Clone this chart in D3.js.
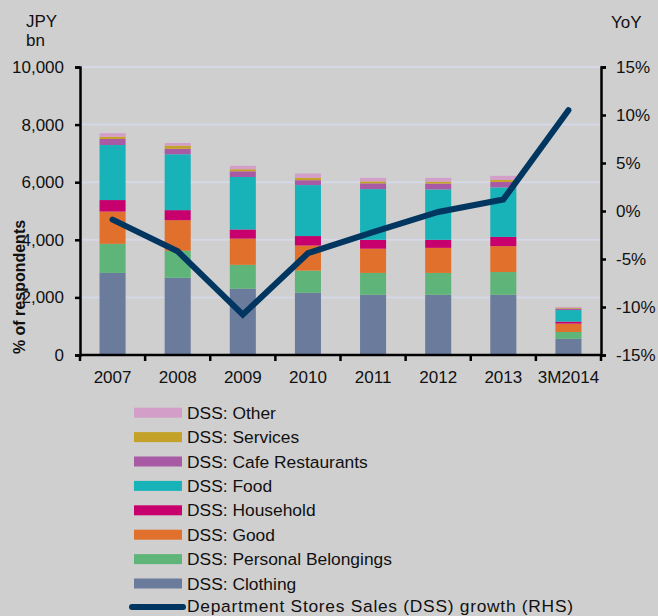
<!DOCTYPE html>
<html><head><meta charset="utf-8">
<script src="https://cdn.jsdelivr.net/npm/d3@7"></script>
<style>
html,body{margin:0;padding:0;background:#cfcfcf;}
svg{display:block;font-family:"Liberation Sans",Arial,sans-serif;}
</style></head>
<body>
<svg id="chart" width="658" height="616"></svg>
<script>
const categories = ["2007","2008","2009","2010","2011","2012","2013","3M2014"];
const clothing  = [2850,2680,2300,2160,2090,2090,2090,560];
const personal  = [1010, 940, 830, 770, 760, 760, 790,240];
const good      = [1120,1060, 910, 870, 840, 870, 900,290];
const household = [ 400, 350, 320, 330, 310, 280, 320, 70];
const food      = [1910,1940,1820,1770,1760,1750,1720,400];
const cafe      = [ 210, 190, 200, 170, 200, 200, 190, 50];
const services  = [  80, 110,  70,  80,  70,  70,  70, 30];
const other     = [ 120,  90, 120, 150, 120, 130, 140, 30];
const growth    = [-0.9,-4.2,-10.8,-4.4,-2.2,-0.1,1.2,10.5];
const leftTicks = [0,2000,4000,6000,8000,10000];
const rightTicks = [-15,-10,-5,0,5,10,15];

const seriesNames = ["DSS: Clothing","DSS: Personal Belongings","DSS: Good","DSS: Household","DSS: Food","DSS: Cafe Restaurants","DSS: Services","DSS: Other"];
const seriesData = [clothing,personal,good,household,food,cafe,services,other];
const colors = ["#6b7b9c","#5fb47a","#e0702b","#c8006e","#17b3b8","#a95aa5","#c4a22a","#d39ec8"];
const lineName = "Department Stores Sales (DSS) growth (RHS)";

const svg = d3.select("#chart");
const L = 80, R = 601, T = 67, B = 355;
const FS = 17;

const x = d3.scaleBand().domain(categories).range([L,R]).paddingInner(0).paddingOuter(0);
const yL = d3.scaleLinear().domain([0,10000]).range([B,T]);
const yR = d3.scaleLinear().domain([-15,15]).range([B,T]);

// gridlines
svg.append("g").selectAll("line").data(leftTicks.filter(d=>d>0)).join("line")
  .attr("x1",L).attr("x2",R).attr("y1",d=>yL(d)).attr("y2",d=>yL(d))
  .attr("stroke","#d5d8e6").attr("stroke-width",2);

// stacked data
const rows = categories.map((c,i)=>{const o={cat:c}; seriesNames.forEach((n,j)=>o[n]=seriesData[j][i]); return o;});
const stack = d3.stack().keys(seriesNames)(rows);
const bw = x.bandwidth()*0.4;
svg.append("g").selectAll("g").data(stack).join("g")
  .attr("fill",(d,i)=>colors[i])
  .selectAll("rect").data(d=>d).join("rect")
  .attr("x",d=>x(d.data.cat)+x.bandwidth()/2-bw/2)
  .attr("width",bw)
  .attr("y",d=>yL(d[1]))
  .attr("height",d=>yL(d[0])-yL(d[1]));

// line
const line = d3.line().x((d,i)=>x(categories[i])+x.bandwidth()/2).y(d=>yR(d));
svg.append("path").datum(growth).attr("d",line)
  .attr("fill","none").attr("stroke","#003660").attr("stroke-width",6)
  .attr("stroke-linecap","round").attr("stroke-linejoin","miter");

// axes
const axL = svg.append("g").attr("transform",`translate(${L},0)`)
  .call(d3.axisLeft(yL).tickValues(leftTicks).tickFormat(d3.format(",")).tickSize(5).tickPadding(11));
const axR = svg.append("g").attr("transform",`translate(${R},0)`)
  .call(d3.axisRight(yR).tickValues(rightTicks).tickFormat(d=>d+"%").tickSize(5).tickPadding(10));
const axB = svg.append("g").attr("transform",`translate(0,${B})`)
  .call(d3.axisBottom(x).tickSize(0).tickPadding(16));
[axL,axR,axB].forEach(a=>{
  a.select(".domain").attr("stroke","#000").attr("stroke-width",2.5);
  a.selectAll(".tick line").attr("stroke","#000").attr("stroke-width",2.5);
  a.selectAll("text").attr("font-size",FS).attr("fill","#111").attr("font-family","Liberation Sans, Arial, sans-serif");
});
axB.select(".domain").attr("d",`M${L},0H${R}`);
// category boundary ticks
axB.append("g").selectAll("line").data(d3.range(categories.length+1)).join("line")
  .attr("x1",i=>L+i*x.step()).attr("x2",i=>L+i*x.step()).attr("y1",0).attr("y2",6)
  .attr("stroke","#000").attr("stroke-width",2.5);

// axis titles
svg.append("text").attr("x",26).attr("y",26.5).attr("font-size",FS).attr("fill","#111").text("JPY");
svg.append("text").attr("x",26).attr("y",46).attr("font-size",FS).attr("fill","#111").text("bn");
svg.append("text").attr("x",611).attr("y",28).attr("font-size",FS).attr("fill","#111").text("YoY");
svg.append("text").attr("transform","translate(25,287) rotate(-90)").attr("text-anchor","middle")
  .attr("font-size",16).attr("font-weight","bold").attr("fill","#111").text("% of respondents");

// legend
const LFS = 17.4;
const legOrder = seriesNames.map((n,i)=>({n,c:colors[i]})).reverse();
const lg = svg.append("g");
legOrder.forEach((d,i)=>{
  const cy = 412.7 + 24.4*i;
  lg.append("rect").attr("x",134).attr("y",cy-5).attr("width",48).attr("height",10).attr("fill",d.c);
  lg.append("text").attr("x",187).attr("y",cy+6).attr("font-size",LFS).attr("fill","#111").text(d.n);
});
const ly = 412.7 + 24.4*8 - 1;
lg.append("line").attr("x1",132).attr("x2",183).attr("y1",ly).attr("y2",ly)
  .attr("stroke","#003660").attr("stroke-width",6).attr("stroke-linecap","round");
lg.append("text").attr("x",187).attr("y",ly+5.5).attr("font-size",LFS).attr("fill","#111")
  .attr("textLength",386).attr("lengthAdjust","spacing").text(lineName);
</script>
</body></html>
